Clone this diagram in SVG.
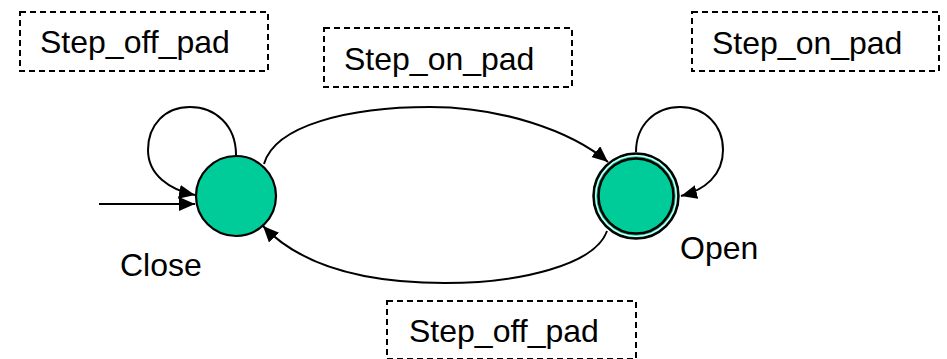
<svg xmlns="http://www.w3.org/2000/svg" width="947" height="359" viewBox="0 0 947 359">
<style>
.box{fill:none;stroke:#000;stroke-width:2;stroke-dasharray:6,4}
.lbl{font-family:"Liberation Sans",Arial,sans-serif;font-size:32px;fill:#000}
.edge{fill:none;stroke:#000;stroke-width:2}
.state{fill:#00CC99;stroke:#000;stroke-width:2.2}
</style>
<defs>
<marker id="arr" markerUnits="userSpaceOnUse" markerWidth="18" markerHeight="16" refX="16" refY="7" orient="auto">
<path d="M0,0 L16,7 L0,14 Z" fill="#000"/>
</marker>
</defs>
<rect width="947" height="359" fill="#fff"/>
<g id="connectors">
<path class="edge" d="M99,204 L195,204" marker-end="url(#arr)"/>
<path class="edge" d="M236,155 C236,125 215,107 190,107 C165,107 148,125 148,150 C148,175 170,190 195,195" marker-end="url(#arr)"/>
<path class="edge" d="M636,152 C636,125 655,107 680,107 C705,107 723,125 723,150 C723,175 705,190 681,196" marker-end="url(#arr)"/>
<path class="edge" d="M264,164 C275,125 350,107 430,107 C500,107 570,130 608,162" marker-end="url(#arr)"/>
<path class="edge" d="M607,231 C595,265 520,283 445,283 C360,283 300,265 263,226" marker-end="url(#arr)"/>
</g>
<g id="close">
<circle class="state" cx="236" cy="196" r="40"/>
<text class="lbl" x="120" y="276">Close</text>
</g>
<g id="open">
<circle cx="636" cy="196" r="42.5" fill="#00CC99" stroke="#000" stroke-width="2.5"/>
<circle cx="636" cy="196" r="40.3" fill="none" stroke="#fff" stroke-width="1.2"/>
<circle cx="636" cy="196" r="37.5" fill="#00CC99" stroke="#000" stroke-width="2.5"/>
<text class="lbl" x="680" y="259">Open</text>
</g>
<g id="label-close-loop">
<rect class="box" x="20" y="12" width="248" height="59"/>
<text class="lbl" x="40" y="53">Step_off_pad</text>
</g>
<g id="label-close-open">
<rect class="box" x="324" y="28" width="248" height="59"/>
<text class="lbl" x="344" y="70">Step_on_pad</text>
</g>
<g id="label-open-loop">
<rect class="box" x="692" y="12" width="247" height="59"/>
<text class="lbl" x="712" y="54">Step_on_pad</text>
</g>
<g id="label-open-close">
<rect class="box" x="387" y="301" width="249" height="58"/>
<text class="lbl" x="409" y="342">Step_off_pad</text>
</g>
</svg>
